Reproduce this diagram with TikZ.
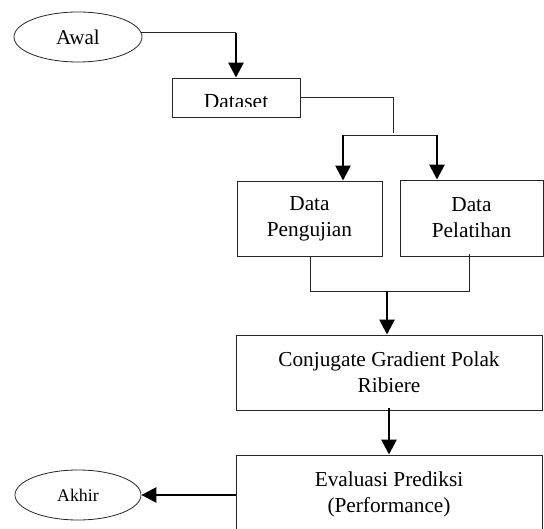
\documentclass[tikz,border=0pt]{standalone}
\usepackage{fontspec}
\setmainfont{Liberation Serif}
\usetikzlibrary{shapes.geometric,arrows.meta}
\begin{document}
\begin{tikzpicture}[x=1pt,y=-1pt,
  box/.style={draw=black!85, line width=0.9pt, inner sep=0pt, align=center,
    font=\fontsize{21.3}{26}\selectfont},
  oval/.style={draw=black!85, line width=0.8pt, ellipse, inner sep=0pt},
  thinline/.style={draw=black!85, line width=0.9pt},
  thickarrow/.style={line width=2.6pt, -{Triangle[width=15pt,length=15pt]}, shorten >=0pt}
]
\useasboundingbox (0,0) rectangle (544,529);
\clip (0,0) rectangle (544,529);

% nodes
\node[oval, minimum width=128, minimum height=50, font=\fontsize{21}{24}\selectfont] (awal) at (78,37) {Awal};
\node[draw=black!85, line width=0.9pt, minimum width=128, minimum height=39, inner sep=0pt] (dataset) at (236,97.5) {};
\begin{scope}
  \clip (172,78) rectangle (300,106.5);
  \node[font=\fontsize{21.5}{25}\selectfont, anchor=base] (datasettext) at (236,109) {Dataset};
\end{scope}
\node[box, minimum width=145, minimum height=75] (peng) at (309.5,218.5) {Data\\Pengujian};
\node[box, minimum width=143, minimum height=76] (pel) at (471.5,218) {Data\\Pelatihan};
\node[box, minimum width=306, minimum height=75] (conj) at (389,372.5) {Conjugate Gradient Polak\\Ribiere};
\node[box, minimum width=306, minimum height=78] (eval) at (389,494) {Evaluasi Prediksi\\(Performance)};
\node[oval, minimum width=126, minimum height=50, font=\fontsize{17.8}{21}\selectfont] (akhir) at (78,495) {Akhir};

% coordinates
\coordinate (c1) at (awal.4 -| dataset.north);
\coordinate (s1) at (393,133);
\coordinate (a1) at (343,135);
\coordinate (a2) at (437,135);
\coordinate (j1) at (310,291);
\coordinate (j2) at (469,291);
\coordinate (j3) at (387,291);

% connectors
\draw[thinline] (awal.4) -- (c1);
\draw[thickarrow] (c1) -- (dataset.north);
\draw[thinline] (dataset.east) -| (s1);
\draw[thinline] (a1) -- (a2);
\draw[thickarrow] (a1) -- (peng.north -| a1);
\draw[thickarrow] (a2) -- (pel.north -| a2);
\draw[thinline] (peng.south -| j1) -- (j1) -- (j2) -- ([yshift=2pt]pel.south -| j2);
\draw[thickarrow] (j3) -- (conj.north -| j3);
\draw[thickarrow] ([yshift=2pt]conj.south) -- (eval.north);
\draw[thickarrow] (eval.west |- akhir.east) -- (akhir.east);
\end{tikzpicture}
\end{document}
